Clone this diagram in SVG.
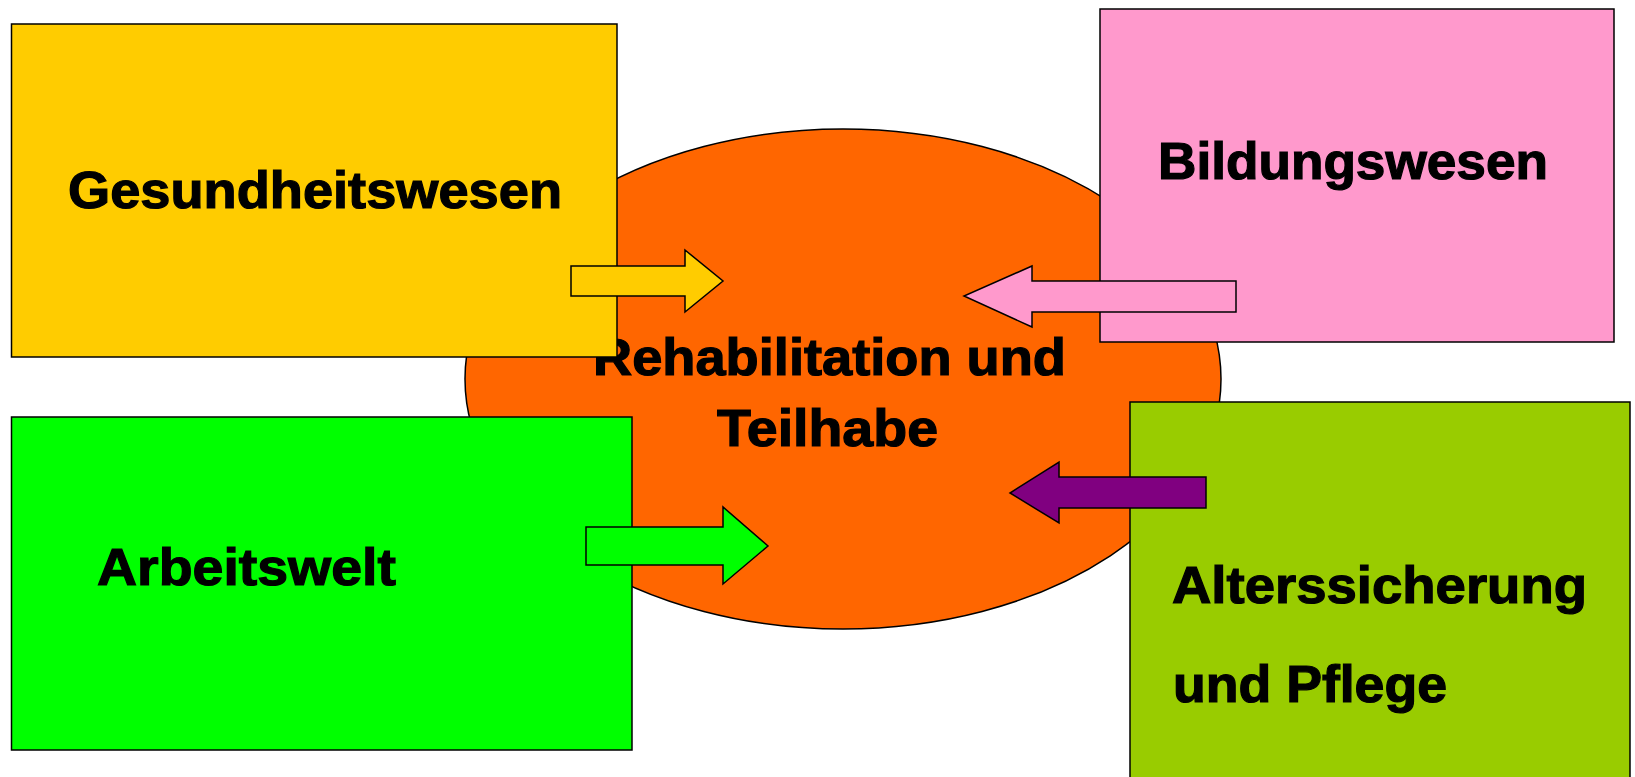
<svg xmlns="http://www.w3.org/2000/svg" width="1635" height="777" viewBox="0 0 1635 777">
  <style>
    .box { stroke: #000; stroke-width: 1.5; }
    .arr { stroke: #000; stroke-width: 1.5; stroke-linejoin: miter; }
    .lbl { font-family: "Liberation Sans", Arial, sans-serif; font-weight: bold; font-size: 52px; fill: #000; stroke: #000; stroke-width: 1.2; }
  </style>
  <rect width="1635" height="777" fill="#fff"/>
  <g id="center">
    <ellipse cx="843" cy="379" rx="378" ry="250" fill="#FF6600" stroke="#000" stroke-width="1.5"/>
    <text class="lbl" x="593" y="375" textLength="473" lengthAdjust="spacingAndGlyphs">Rehabilitation und</text>
    <text class="lbl" x="717" y="446" textLength="221" lengthAdjust="spacingAndGlyphs">Teilhabe</text>
  </g>
  <g id="gesundheitswesen">
    <rect class="box" x="11.5" y="24" width="605.5" height="333" fill="#FFCC00"/>
    <text class="lbl" x="68" y="208" textLength="494" lengthAdjust="spacingAndGlyphs">Gesundheitswesen</text>
  </g>
  <g id="bildungswesen">
    <rect class="box" x="1100" y="9" width="514" height="333" fill="#FF99CC"/>
    <text class="lbl" x="1158" y="179" textLength="390" lengthAdjust="spacingAndGlyphs">Bildungswesen</text>
  </g>
  <g id="arbeitswelt">
    <rect class="box" x="11.5" y="417" width="620.5" height="333" fill="#00FF00"/>
    <text class="lbl" x="97" y="585" textLength="299" lengthAdjust="spacingAndGlyphs">Arbeitswelt</text>
  </g>
  <g id="alterssicherung">
    <rect class="box" x="1130" y="402" width="500" height="390" fill="#99CC00"/>
    <text class="lbl" x="1172" y="603" textLength="415" lengthAdjust="spacingAndGlyphs">Alterssicherung</text>
    <text class="lbl" x="1173" y="702" textLength="274" lengthAdjust="spacingAndGlyphs">und Pflege</text>
  </g>
  <g id="connectors">
    <polygon class="arr" fill="#FFCC00" points="571,266 685,266 685,250 723,281 685,312 685,296 571,296"/>
    <polygon class="arr" fill="#FF99CC" points="1236,281 1032,281 1032,266 964,296 1032,327 1032,312 1236,312"/>
    <polygon class="arr" fill="#00FF00" points="586,527 723,527 723,507 768,546 723,584 723,565 586,565"/>
    <polygon class="arr" fill="#800080" points="1206,477 1059,477 1059,462 1010,493 1059,523 1059,508 1206,508"/>
  </g>
</svg>
